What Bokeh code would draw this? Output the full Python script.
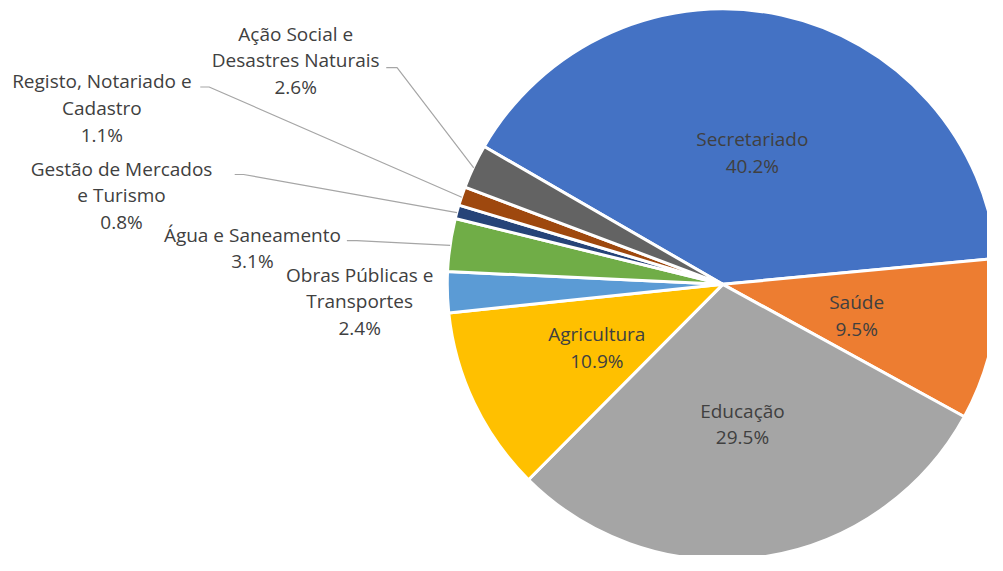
import math
from bokeh.plotting import figure
from bokeh.models import Range1d, ColumnDataSource
from bokeh.core.properties import value
from bokeh.embed import file_html
from bokeh.resources import INLINE

# ---- data ----
categories = ["Secretariado", "Saúde", "Educação", "Agricultura",
              "Obras Públicas e Transportes", "Água e Saneamento",
              "Gestão de Mercados e Turismo", "Registo, Notariado e Cadastro",
              "Ação Social e Desastres Naturais"]
shares = [40.2, 9.5, 29.5, 10.9, 2.4, 3.1, 0.8, 1.1, 2.6]
label_lines = [["Secretariado"], ["Saúde"], ["Educação"], ["Agricultura"],
               ["Obras Públicas e", "Transportes"], ["Água e Saneamento"],
               ["Gestão de Mercados", "e Turismo"], ["Registo, Notariado e", "Cadastro"],
               ["Ação Social e", "Desastres Naturais"]]
colors = ["#4472C4", "#ED7D31", "#A5A5A5", "#FFC000", "#5B9BD5",
          "#70AD47", "#264478", "#9E480E", "#636363"]

# ---- layout (reference pixel coords, mapped onto the plot) ----
W, H = 987, 555
REF_W, REF_H = 1003, 571
cx, cy, R = 734, 292, 280
start_deg = 150.0
label_pos = [(764, 143), (870, 310), (754, 422), (606, 343), (365, 282),
             (256, 241), (123, 173), (103, 83), (300, 34)]
leader_elbow = {5: ((352, 247), (362, 247)), 6: ((238, 179), (247, 179)),
                7: ((203, 89), (212, 89)), 8: ((392, 69), (403, 69))}
line_gap = 27.5
FONT = "Open Sans"
FS = "19px"
TXT = "#404040"


def Y(py):
    return REF_H - py


p = figure(width=W, height=H, output_backend="svg", toolbar_location=None,
           x_range=Range1d(0, REF_W), y_range=Range1d(0, REF_H),
           x_axis_location=None, y_axis_location=None, min_border=0,
           outline_line_color=None)
p.grid.visible = False

total = sum(shares)
starts, ends, mids = [], [], []
acc = 0.0
for s in shares:
    a0 = math.radians(start_deg - acc / total * 360)
    acc += s
    a1 = math.radians(start_deg - acc / total * 360)
    starts.append(a1)
    ends.append(a0)
    mids.append((a0 + a1) / 2)

src = ColumnDataSource(dict(x=[cx] * len(shares), y=[Y(cy)] * len(shares),
                            start=starts, end=ends, color=colors))
p.wedge(x="x", y="y", radius=R, start_angle="start", end_angle="end",
        direction="anticlock", fill_color="color", line_color="white",
        line_width=3, source=src)

# leader lines
for i, (e0, e1) in leader_elbow.items():
    ex = cx + R * math.cos(mids[i])
    ey = Y(cy) + R * math.sin(mids[i])
    p.line([e0[0], e1[0], ex], [Y(e0[1]), Y(e1[1]), ey],
           line_color="#A6A6A6", line_width=1.2)

# labels
tx, ty, tt = [], [], []
for i, lines in enumerate(label_lines):
    lx, ly = label_pos[i]
    allines = lines + [f"{shares[i]:.1f}%"]
    for k, t in enumerate(allines):
        tx.append(lx)
        ty.append(Y(ly + k * line_gap))
        tt.append(t)
p.text(x=tx, y=ty, text=tt, text_align="center", text_baseline="middle",
       text_font=value(FONT), text_font_size=FS, text_color=TXT)

open("out.html", "w").write(file_html(p, INLINE))
